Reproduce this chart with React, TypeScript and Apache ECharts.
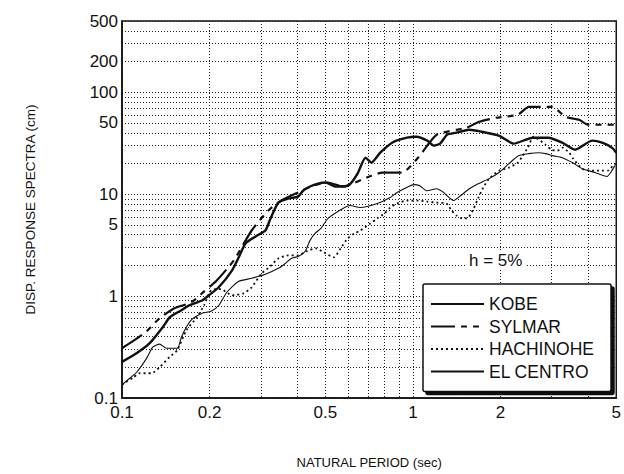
import React, { useEffect, useRef } from "react";
import * as echarts from "echarts";

// Axis values
const xGridValues = [0.1, 0.2, 0.3, 0.4, 0.5, 0.6, 0.7, 0.8, 0.9, 1, 2, 3, 4, 5];
const xLabelValues = [0.1, 0.2, 0.5, 1, 2, 5];
const yGridValues = [
  0.1, 0.2, 0.3, 0.4, 0.5, 0.6, 0.7, 0.8, 0.9,
  1, 2, 3, 4, 5, 6, 7, 8, 9,
  10, 20, 30, 40, 50, 60, 70, 80, 90,
  100, 200, 300, 400, 500,
];
const yLabelValues = [0.1, 1, 5, 10, 50, 100, 200, 500];

const seriesNames = ["KOBE", "SYLMAR", "HACHINOHE", "EL CENTRO"];

// KOBE
const kobeT = [0.1, 0.1125, 0.1245, 0.138, 0.146, 0.16, 0.17, 0.189, 0.199, 0.215, 0.239, 0.252, 0.266, 0.288, 0.311, 0.324, 0.345, 0.373, 0.403, 0.419, 0.443, 0.472, 0.502, 0.539, 0.583, 0.606, 0.645, 0.687, 0.72, 0.772, 0.848, 0.954, 1.03, 1.12, 1.18, 1.24, 1.31, 1.41, 1.56, 1.72, 1.98, 2.22, 2.58, 2.92, 3.26, 3.61, 4.13, 4.47, 4.83, 5.0];
const kobeV = [0.226, 0.276, 0.345, 0.495, 0.62, 0.726, 0.81, 0.91, 1.02, 1.22, 1.79, 2.4, 3.3, 3.85, 4.4, 5.77, 8.27, 9.06, 9.47, 10.8, 11.9, 12.7, 13.0, 11.9, 11.9, 12.4, 15.9, 22.8, 20.4, 25.5, 32.0, 35.8, 36.6, 33.5, 29.9, 31.3, 38.3, 40.1, 42.9, 41.0, 37.4, 31.3, 35.8, 35.8, 32.0, 27.3, 33.5, 32.0, 28.6, 25.5];

// SYLMAR
const sylmarT = [0.1, 0.109, 0.1216, 0.1347, 0.1514, 0.1664, 0.1771, 0.1916, 0.2104, 0.2423, 0.279, 0.3187, 0.353, 0.403, 0.4535, 0.51, 0.5735, 0.708, 0.785, 0.918, 1.048, 1.207, 1.527, 1.69, 1.931, 2.294, 2.5, 2.747, 3.016, 3.341, 3.727, 4.0, 5.0];
const sylmarV = [0.308, 0.361, 0.452, 0.606, 0.76, 0.832, 0.91, 1.114, 1.396, 2.24, 4.4, 6.92, 8.66, 10.4, 12.1, 13.0, 11.9, 14.9, 16.3, 16.3, 23.3, 38.3, 44.8, 51.3, 56.2, 60.1, 71.9, 71.9, 71.9, 57.4, 53.7, 48.0, 48.0];

// HACHINOHE
const hachinoheT = [0.1, 0.109, 0.1151, 0.1265, 0.1347, 0.1457, 0.155, 0.1664, 0.18, 0.1916, 0.2024, 0.2188, 0.2385, 0.2619, 0.279, 0.302, 0.3236, 0.3446, 0.3728, 0.4031, 0.4292, 0.4642, 0.4941, 0.5345, 0.5646, 0.5964, 0.63, 0.66, 0.714, 0.754, 0.797, 0.835, 0.882, 0.954, 1.032, 1.116, 1.207, 1.305, 1.357, 1.412, 1.479, 1.55, 1.613, 1.68, 1.744, 1.828, 1.977, 2.138, 2.294, 2.386, 2.481, 2.6, 2.856, 2.993, 3.138, 3.263, 3.446, 3.556, 3.816, 4.127, 4.465, 4.677, 4.868, 5.0];
const hachinoheV = [0.135, 0.158, 0.175, 0.175, 0.201, 0.252, 0.295, 0.463, 0.606, 0.813, 1.14, 1.17, 1.018, 1.065, 1.22, 1.67, 1.96, 2.34, 2.51, 2.51, 2.74, 2.94, 2.68, 2.4, 2.94, 3.68, 4.12, 4.4, 5.16, 5.77, 6.46, 7.39, 8.09, 8.66, 8.66, 8.46, 8.27, 8.09, 6.92, 6.17, 5.77, 5.9, 7.1, 9.26, 11.6, 14.2, 17.0, 18.2, 20.4, 23.9, 28.6, 36.6, 30.6, 27.3, 26.7, 28.6, 25.5, 22.3, 17.8, 17.0, 17.0, 17.0, 19.05, 19.9];

// EL CENTRO
const elCentroT = [0.1, 0.1065, 0.1125, 0.1216, 0.1275, 0.1347, 0.1422, 0.155, 0.16, 0.1664, 0.1743, 0.1886, 0.2024, 0.2154, 0.2293, 0.252, 0.279, 0.3112, 0.3446, 0.3641, 0.3816, 0.4031, 0.4258, 0.443, 0.4606, 0.4827, 0.5099, 0.5387, 0.5826, 0.6058, 0.6601, 0.7544, 0.8352, 0.8823, 0.932, 1.008, 1.056, 1.116, 1.207, 1.274, 1.379, 1.445, 1.563, 1.651, 1.828, 1.977, 2.138, 2.312, 2.5, 2.704, 2.856, 3.016, 3.263, 3.529, 3.816, 4.226, 4.642, 4.828, 4.942];
const elCentroV = [0.135, 0.157, 0.18, 0.246, 0.316, 0.338, 0.308, 0.308, 0.395, 0.495, 0.593, 0.679, 0.71, 0.813, 1.09, 1.396, 1.494, 1.635, 1.871, 2.09, 2.34, 2.45, 2.74, 3.52, 4.12, 4.61, 5.77, 6.46, 7.39, 7.74, 7.39, 8.09, 9.26, 10.4, 11.3, 12.4, 12.1, 10.8, 11.3, 10.4, 8.66, 9.47, 11.3, 12.4, 14.2, 16.3, 19.9, 23.9, 25.0, 25.5, 25.0, 23.9, 22.8, 20.4, 17.8, 16.3, 14.9, 17.0, 19.05];

const INK = "#111";
const FONT = "'Liberation Sans', Arial, Helvetica, sans-serif";

const pair = (t: number[], v: number[]) => t.map((x, i) => [x, v[i]]);

export default function App() {
  const ref = useRef<HTMLDivElement>(null);

  useEffect(() => {
    if (!ref.current) return;
    const chart = echarts.init(ref.current, null, { renderer: "svg" });
    const fmt = (v: number) => String(parseFloat(Number(v).toPrecision(3)));
    const lineSeries = (name: string, t: number[], v: number[], width: number, type: any) => ({
      type: "line",
      name,
      data: pair(t, v),
      symbol: "none",
      showSymbol: false,
      smooth: 0.2,
      lineStyle: { color: INK, width, type },
      itemStyle: { color: INK },
    });
    const option: any = {
      animation: false,
      backgroundColor: "#fff",
      grid: {
        left: 122,
        top: 21,
        width: 498,
        height: 377,
        show: true,
        borderColor: INK,
        borderWidth: 1.5,
        backgroundColor: "transparent",
      },
      xAxis: {
        type: "log",
        logBase: 10,
        min: 0.1,
        max: 5,
        name: "NATURAL PERIOD (sec)",
        nameLocation: "middle",
        nameGap: 58,
        nameTextStyle: { fontSize: 13, fontFamily: FONT, color: INK },
        axisLine: { show: true, lineStyle: { color: INK, width: 1.5 } },
        axisTick: { show: false, customValues: xGridValues },
        splitLine: {
          show: true,
          customValues: xGridValues,
          lineStyle: { color: "#222", width: 1, type: [1, 2] },
        },
        axisLabel: {
          customValues: xLabelValues,
          formatter: fmt,
          fontSize: 17,
          fontFamily: FONT,
          color: INK,
          margin: 6,
        },
      },
      yAxis: {
        type: "log",
        logBase: 10,
        min: 0.1,
        max: 500,
        name: "DISP. RESPONSE SPECTRA (cm)",
        nameLocation: "middle",
        nameGap: 85,
        nameTextStyle: { fontSize: 13.5, fontFamily: FONT, color: INK },
        axisLine: { show: true, lineStyle: { color: INK, width: 1.5 } },
        axisTick: { show: false, customValues: yGridValues },
        splitLine: {
          show: true,
          customValues: yGridValues,
          lineStyle: { color: "#222", width: 1, type: [1, 2] },
        },
        axisLabel: {
          customValues: yLabelValues,
          formatter: fmt,
          fontSize: 17,
          fontFamily: FONT,
          color: INK,
          margin: 4,
        },
      },
      legend: {
        orient: "vertical",
        left: 423,
        top: 284,
        padding: [11, 17, 11, 7],
        itemWidth: 53,
        itemHeight: 14,
        itemGap: 4.5,
        backgroundColor: "#fff",
        borderColor: INK,
        borderWidth: 1.5,
        borderRadius: 2,
        shadowColor: INK,
        shadowBlur: 0.5,
        shadowOffsetX: 3,
        shadowOffsetY: 3,
        itemStyle: { color: "transparent", borderColor: "transparent", borderWidth: 0, opacity: 0 },
        textStyle: { fontSize: 17.5, fontFamily: FONT, color: INK },
        data: seriesNames,
      },
      graphic: [
        {
          type: "text",
          left: 465,
          top: 252,
          z: 100,
          style: {
            text: "h = 5%",
            font: `17px ${FONT}`,
            fill: INK,
            backgroundColor: "#fff",
            padding: [0, 4],
          },
        },
      ],
      series: [
        lineSeries(seriesNames[0], kobeT, kobeV, 2.4, "solid"),
        lineSeries(seriesNames[1], sylmarT, sylmarV, 2.2, [24, 6, 6, 6, 6, 6]),
        lineSeries(seriesNames[2], hachinoheT, hachinoheV, 1.8, [2, 3]),
        lineSeries(seriesNames[3], elCentroT, elCentroV, 1.1, "solid"),
      ],
    };
    chart.setOption(option);
    return () => chart.dispose();
  }, []);

  return (
    <div
      ref={ref}
      style={{ position: "absolute", left: 0, top: 0, width: 624, height: 474, background: "#fff" }}
    />
  );
}
